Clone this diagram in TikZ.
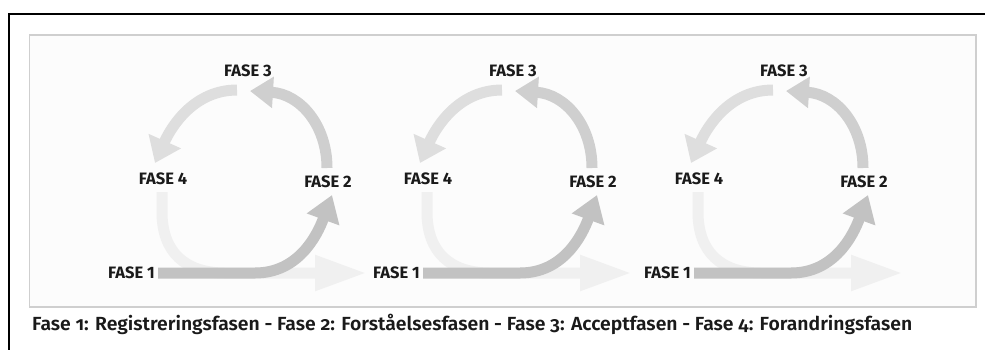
\documentclass[tikz,border=0pt]{standalone}
\usepackage{fontspec}
\usepackage{graphicx}
\setmainfont{Fira Sans}
\newfontfamily\capfont[Numbers=OldStyle]{Fira Sans SemiBold}
\usetikzlibrary{arrows.meta}
\definecolor{faint}{HTML}{F0F0F0}
\definecolor{lightarc}{HTML}{DEDEDE}
\definecolor{midarc}{HTML}{CFCFCF}
\definecolor{darkarr}{HTML}{C2C2C2}
\definecolor{boxline}{HTML}{CFCFCF}
\definecolor{boxfill}{HTML}{FCFCFC}
\definecolor{labeltext}{HTML}{1A1A1A}
\tikzset{
  lbl/.style={font=\fontsize{16.5}{16.5}\selectfont\bfseries, text=labeltext, inner sep=0pt},
  shaft/.style={line width=11pt},
}
\begin{document}
\begin{tikzpicture}[x=1pt,y=-1pt]
\useasboundingbox (0,0) rectangle (985,349);
\fill[white] (0,0) rectangle (985,349);
\draw[line width=2pt] (9,355) -- (9,14) -- (990,14);
\draw[boxline, fill=boxfill, line width=1.3pt] (29.5,35) rectangle (976,307);
\foreach \dx/\k in {0/a,265/b,536/c}{
  \begin{scope}[shift={(\dx,0)}]
    \node[lbl] (f3\k) at (248,70.5) {FASE 3};
    \node[lbl] (f4\k) at (163,179) {FASE 4};
    \node[lbl] (f2\k) at (328,181.5) {FASE 2};
    \node[lbl, anchor=east] (f1\k) at (155,273) {FASE 1};
    \coordinate (s4\k) at (162,192);
    \coordinate (s2\k) at (327,168);
    \coordinate (s3\k) at (237,90);
    \coordinate (e1\k) at (367,273);
    \coordinate (e2\k) at (332,195);
    \coordinate (e3\k) at (250,91);
    \coordinate (e4\k) at (155,163);
    \draw[shaft, faint, -{Triangle[length=52pt,width=33pt]}]
      (s4\k) -- (162,212) .. controls (162,252) and (185,273) .. (225,273) -- (e1\k);
    \draw[shaft, lightarc, -{Triangle[length=24pt,width=34pt]}]
      (s3\k) .. controls (195,90) and (172,125) .. (e4\k);
    \draw[shaft, midarc, -{Triangle[length=23pt,width=30pt]}]
      (s2\k) .. controls (327,125) and (300,94) .. (e3\k);
    \draw[shaft, darkarr, -{Triangle[length=26pt,width=33pt]}]
      ([xshift=3pt]f1\k.east) -- (255,273) .. controls (298,273) and (317,236) .. (e2\k);
  \end{scope}
}
\node[anchor=base west, inner sep=0pt, text=labeltext] (cap) at (32,330)
  {\resizebox{880pt}{\height}{\capfont\fontsize{19}{19}\selectfont Fase 1: Registreringsfasen - Fase 2: Forståelsesfasen - Fase 3: Acceptfasen - Fase 4: Forandringsfasen}};
\end{tikzpicture}
\end{document}
